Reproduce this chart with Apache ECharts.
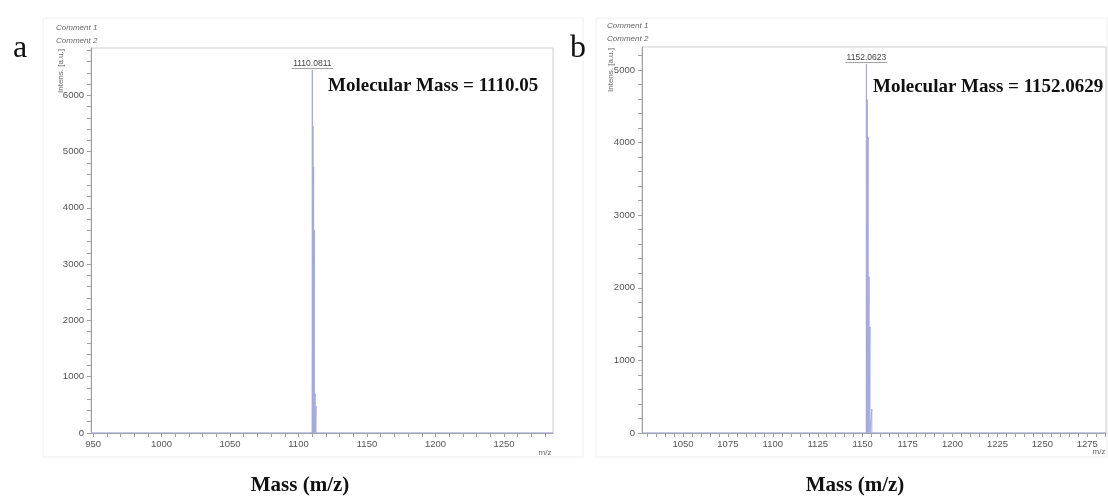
<!DOCTYPE html>
<html><head><meta charset="utf-8">
<script src="https://cdn.jsdelivr.net/npm/echarts@6/dist/echarts.min.js"></script>
<style>html,body{margin:0;padding:0;background:#fff}#c{width:1108px;height:500px}</style>
</head><body><div id="c"></div>
<script>
// ---- data ----
const spikesA = [[1110.08, 6450], [1110.55, 5450], [1111.05, 4725], [1111.55, 3605], [1112.1, 700], [1112.8, 480]];
const spikesB = [[1152.06, 5080], [1152.55, 4590], [1153.05, 4077], [1153.55, 2150], [1154.05, 1460], [1155.1, 330]];
const xTicksA = [950, 1000, 1050, 1100, 1150, 1200, 1250];
const xTicksB = [1050, 1075, 1100, 1125, 1150, 1175, 1200, 1225, 1250, 1275];
const yTicksA = [0, 1000, 2000, 3000, 4000, 5000, 6000];
const yTicksB = [0, 1000, 2000, 3000, 4000, 5000];
const peakLabelA = '1110.0811', peakLabelB = '1152.0623';
const massTextA = 'Molecular Mass = 1110.05', massTextB = 'Molecular Mass = 1152.0629';
const rangeA = {xmin: 948.5, xmax: 1285.8, ymax: 6840};
const rangeB = {xmin: 1027.2, xmax: 1285.4, ymax: 5315};

function steps(a, b, s) { const r = []; for (let v = a; v <= b + 1e-9; v += s) r.push(v); return r; }
function profile(spikes, xmin, xmax) {
  const d = [[xmin, 0]];
  spikes.forEach(p => { d.push([p[0], 0], [p[0], p[1]], [p[0], 0]); });
  d.push([xmax, 0]);
  return d;
}
const SANS = 'Liberation Sans', SERIF = 'Liberation Serif';
const axisCol = '#a0a0a0', labCol = '#555';
const plain = v => String(Math.round(v));

function xAxis(gi, r, labels, minor) {
  return {type: 'value', gridIndex: gi, min: r.xmin, max: r.xmax,
    axisLine: {show: true, onZero: false, lineStyle: {color: axisCol}},
    axisTick: {show: true, customValues: minor, length: 4, lineStyle: {color: axisCol}},
    axisLabel: {customValues: labels, formatter: plain, fontFamily: SANS, fontSize: 9.5, color: labCol, margin: 6},
    splitLine: {show: false}};
}
function yAxis(gi, r, labels, minor) {
  return {type: 'value', gridIndex: gi, min: 0, max: r.ymax,
    axisLine: {show: true, lineStyle: {color: axisCol}},
    axisTick: {show: true, customValues: minor, length: 4, lineStyle: {color: axisCol}},
    axisLabel: {customValues: labels, formatter: plain, fontFamily: SANS, fontSize: 9.5, color: labCol, margin: 7},
    splitLine: {show: false}};
}
const chart = echarts.init(document.getElementById('c'), null, {renderer: 'canvas'});
const lineCol = '#a6aadc';
chart.setOption({
  animation: false,
  grid: [
    {left: 91, top: 48, width: 462, height: 385, show: true, borderColor: '#cfcfcf', borderWidth: 1},
    {left: 642, top: 47, width: 464, height: 386, show: true, borderColor: '#cfcfcf', borderWidth: 1}
  ],
  xAxis: [xAxis(0, rangeA, xTicksA, steps(950, 1280, 10)), xAxis(1, rangeB, xTicksB, steps(1030, 1285, 5))],
  yAxis: [yAxis(0, rangeA, yTicksA, steps(0, 6800, 200)), yAxis(1, rangeB, yTicksB, steps(0, 5200, 200))],
  series: [
    {type: 'line', xAxisIndex: 0, yAxisIndex: 0, data: profile(spikesA, rangeA.xmin, rangeA.xmax),
      showSymbol: false, symbol: 'none', lineStyle: {color: lineCol, width: 1}, z: 3},
    {type: 'line', xAxisIndex: 1, yAxisIndex: 1, data: profile(spikesB, rangeB.xmin, rangeB.xmax),
      showSymbol: false, symbol: 'none', lineStyle: {color: lineCol, width: 1}, z: 3}
  ]
});

function peakLabel(gi, spike, text) {
  const p = chart.convertToPixel({gridIndex: gi}, spike);
  const w = text.length * 4.6;
  return [
    {type: 'text', x: p[0], y: p[1] - 2, style: {text: text, font: '8.5px ' + SANS, fill: '#444', align: 'center', verticalAlign: 'bottom'}},
    {type: 'line', shape: {x1: p[0] - w / 2, y1: p[1] - 1.5, x2: p[0] + w / 2, y2: p[1] - 1.5}, style: {stroke: '#888', lineWidth: 0.8}}
  ];
}
const g = [
  {type: 'rect', shape: {x: 43, y: 18, width: 540, height: 439}, style: {fill: 'none', stroke: '#f0f0f0', lineWidth: 1}, z: -1},
  {type: 'rect', shape: {x: 596, y: 18, width: 511, height: 439}, style: {fill: 'none', stroke: '#f0f0f0', lineWidth: 1}, z: -1},
  {type: 'text', x: 20, y: 33, style: {text: 'a', font: '32px ' + SERIF, fill: '#111', align: 'center', verticalAlign: 'alphabetic'}},
  {type: 'text', x: 578, y: 33, style: {text: 'b', font: '32px ' + SERIF, fill: '#111', align: 'center', verticalAlign: 'alphabetic'}},
  {type: 'text', x: 56, y: 28, style: {text: 'Comment 1', font: 'italic 8px ' + SANS, fill: '#666', verticalAlign: 'middle'}},
  {type: 'text', x: 56, y: 41, style: {text: 'Comment 2', font: 'italic 8px ' + SANS, fill: '#666', verticalAlign: 'middle'}},
  {type: 'text', x: 607, y: 26, style: {text: 'Comment 1', font: 'italic 8px ' + SANS, fill: '#666', verticalAlign: 'middle'}},
  {type: 'text', x: 607, y: 39, style: {text: 'Comment 2', font: 'italic 8px ' + SANS, fill: '#666', verticalAlign: 'middle'}},
  {type: 'text', x: 61, y: 71, rotation: Math.PI / 2, style: {text: 'Intens. [a.u.]', font: '8px ' + SANS, fill: '#666', align: 'center', verticalAlign: 'middle'}},
  {type: 'text', x: 611, y: 70, rotation: Math.PI / 2, style: {text: 'Intens. [a.u.]', font: '8px ' + SANS, fill: '#666', align: 'center', verticalAlign: 'middle'}},
  {type: 'text', x: 545, y: 453, style: {text: 'm/z', font: '8px ' + SANS, fill: '#666', align: 'center', verticalAlign: 'middle'}},
  {type: 'text', x: 1099, y: 452, style: {text: 'm/z', font: '8px ' + SANS, fill: '#666', align: 'center', verticalAlign: 'middle'}},
  {type: 'text', x: 328, y: 86, style: {text: massTextA, font: 'bold 19px ' + SERIF, fill: '#111', verticalAlign: 'middle'}},
  {type: 'text', x: 873, y: 87, style: {text: massTextB, font: 'bold 19px ' + SERIF, fill: '#111', verticalAlign: 'middle'}},
  {type: 'text', x: 300, y: 486, style: {text: 'Mass (m/z)', font: 'bold 21px ' + SERIF, fill: '#111', align: 'center', verticalAlign: 'middle'}},
  {type: 'text', x: 855, y: 486, style: {text: 'Mass (m/z)', font: 'bold 21px ' + SERIF, fill: '#111', align: 'center', verticalAlign: 'middle'}}
].concat(peakLabel(0, spikesA[0], peakLabelA), peakLabel(1, spikesB[0], peakLabelB));
chart.setOption({graphic: g});
</script></body></html>
